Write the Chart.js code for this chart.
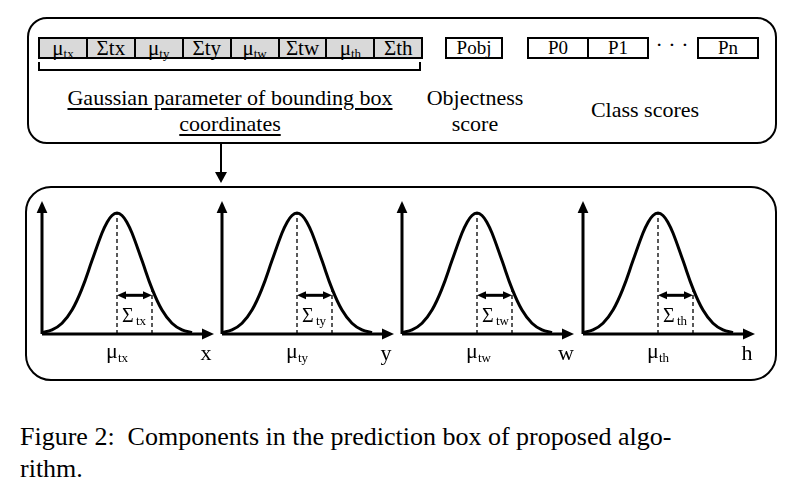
<!DOCTYPE html>
<html><head><meta charset="utf-8">
<script src="https://cdn.jsdelivr.net/npm/chart.js@4"></script>
<style>
body{margin:0;background:#fff;}
#page{position:relative;width:804px;height:494px;font-family:'Liberation Serif','DejaVu Serif',serif;}
.abs{position:absolute;}
.box{position:absolute;border:2px solid #000;box-sizing:border-box;}
.cell{position:absolute;top:37px;height:22px;border:2px solid #000;box-sizing:border-box;background:#d9d9d9;font-size:21px;line-height:18px;text-align:center;font-family:'Liberation Serif',serif;}
.wcell{background:#fff;font-size:19px;}
.cell sub{font-size:13px;vertical-align:-3px;}
.txt{position:absolute;font-size:22px;text-align:center;white-space:nowrap;font-family:'Liberation Serif',serif;}
.u{text-decoration:underline;text-underline-offset:3px;}
canvas{position:absolute;}
</style></head>
<body><div id="page">
<div class="box" style="left:27px;top:17px;width:750px;height:127px;border-radius:20px"></div>
<div id="cells"></div>
<div class="abs" style="left:38px;top:62px;width:383px;height:9px;border:2px solid #000;border-top:none;box-sizing:border-box"></div>
<div class="txt u" style="left:30px;width:400px;top:85px">Gaussian parameter of bounding box</div>
<div class="txt u" style="left:30px;width:400px;top:111px">coordinates</div>
<div class="cell wcell" style="left:445px;width:58px">Pobj</div>
<div class="txt" style="left:415px;width:120px;top:85px">Objectness</div>
<div class="txt" style="left:415px;width:120px;top:111px">score</div>
<div class="cell wcell" style="left:527px;width:62px">P0</div>
<div class="cell wcell" style="left:587px;width:62px">P1</div>
<div class="txt" style="left:650px;width:44px;top:32px">· · ·</div>
<div class="cell wcell" style="left:697px;width:62px">Pn</div>
<div class="txt" style="left:575px;width:140px;top:97px">Class scores</div>
<div class="abs" style="left:220px;top:143px;width:2px;height:32px;background:#000"></div>
<div class="abs" style="left:215px;top:172px;width:0;height:0;border-left:6px solid transparent;border-right:6px solid transparent;border-top:11px solid #000"></div>
<div class="box" style="left:25px;top:186px;width:752px;height:195px;border-radius:26px"></div>
<div id="charts"></div>
<div class="txt" style="left:20px;top:422px;font-size:26px;text-align:left">Figure 2:&nbsp; Components in the prediction box of proposed algo-</div>
<div class="txt" style="left:20px;top:454px;font-size:26px;text-align:left">rithm.</div>
</div>
<script>
const paramCells = ['μ<sub>tx</sub>','Σtx','μ<sub>ty</sub>','Σty','μ<sub>tw</sub>','Σtw','μ<sub>th</sub>','Σth'];
const axisNames = ['x','y','w','h'];
const subNames = ['tx','ty','tw','th'];
const axisLeft = [42, 222, 402, 583];
// curve: offset from the mean (px) and relative height
const curveX = [-75,-65,-55,-45,-35,-25,-15,-10,-5,0,5,10,15,25,35,45,55,65,75];
const curveY = [0.011,0.034,0.089,0.198,0.375,0.607,0.835,0.923,0.98,1,0.98,0.923,0.835,0.607,0.375,0.198,0.089,0.034,0.011];
const meanX = 75, sigmaX = 35, sigmaY = 0.375, arrowY = 0.32;

const cellsDiv = document.getElementById('cells');
paramCells.forEach((c, i) => {
  const d = document.createElement('div');
  d.className = 'cell';
  d.style.left = (38 + i * 47.9) + 'px';
  d.style.width = '50px';
  d.innerHTML = c;
  cellsDiv.appendChild(d);
});

function arrowHead(ctx, x, y, dx, dy, s) {
  const px = -dy, py = dx;
  ctx.beginPath();
  ctx.moveTo(x, y);
  ctx.lineTo(x - dx * s + px * s * 0.45, y - dy * s + py * s * 0.45);
  ctx.lineTo(x - dx * s - px * s * 0.45, y - dy * s - py * s * 0.45);
  ctx.closePath();
  ctx.fill();
}

const decor = {
  id: 'decor',
  afterDraw(chart) {
    const ctx = chart.ctx, xs = chart.scales.x, ys = chart.scales.y;
    const x0 = xs.getPixelForValue(0), y0 = ys.getPixelForValue(0);
    const xe = xs.getPixelForValue(172), yt = ys.getPixelForValue(1.1);
    ctx.save();
    ctx.strokeStyle = '#000'; ctx.fillStyle = '#000'; ctx.lineWidth = 3;
    ctx.beginPath(); ctx.moveTo(x0, y0); ctx.lineTo(xe - 8, y0);
    ctx.moveTo(x0, y0); ctx.lineTo(x0, yt + 8); ctx.stroke();
    arrowHead(ctx, xe, y0, 1, 0, 12);
    arrowHead(ctx, x0, yt, 0, -1, 12);
    const xm = xs.getPixelForValue(meanX), xsg = xs.getPixelForValue(meanX + sigmaX);
    ctx.lineWidth = 1.3; ctx.setLineDash([4, 3]);
    ctx.beginPath(); ctx.moveTo(xm, y0); ctx.lineTo(xm, ys.getPixelForValue(1));
    ctx.moveTo(xsg, y0); ctx.lineTo(xsg, ys.getPixelForValue(sigmaY)); ctx.stroke();
    ctx.setLineDash([]);
    const ya = ys.getPixelForValue(arrowY);
    ctx.lineWidth = 3;
    ctx.beginPath(); ctx.moveTo(xm + 6, ya); ctx.lineTo(xsg - 6, ya); ctx.stroke();
    arrowHead(ctx, xm, ya, -1, 0, 9);
    arrowHead(ctx, xsg, ya, 1, 0, 9);
    const n = chart.options.plugins.decor.idx;
    ctx.font = '20px "Liberation Serif"'; ctx.textBaseline = 'alphabetic';
    ctx.fillText('Σ', xm + 5, y0 - 12);
    ctx.font = '13px "Liberation Serif"'; ctx.fillText(subNames[n], xm + 19, y0 - 9);
    ctx.font = '22px "Liberation Serif"'; ctx.fillText('μ', xm - 11, y0 + 24);
    ctx.font = '13px "Liberation Serif"'; ctx.fillText(subNames[n], xm + 1, y0 + 28);
    ctx.font = '22px "Liberation Serif"'; ctx.textAlign = 'center';
    ctx.fillText(axisNames[n], x0 + 164, y0 + 26);
    ctx.restore();
  }
};

const chartsDiv = document.getElementById('charts');
axisLeft.forEach((ax, n) => {
  const cv = document.createElement('canvas');
  cv.style.left = (ax - 10) + 'px'; cv.style.top = '196px';
  cv.style.width = '192px'; cv.style.height = '176px';
  chartsDiv.appendChild(cv);
  new Chart(cv, {
    type: 'line',
    data: { datasets: [{
      data: curveX.map((d, i) => ({ x: meanX + d, y: curveY[i] })),
      borderColor: '#000', borderWidth: 3, pointRadius: 0, tension: 0.4, fill: false
    }] },
    options: {
      responsive: false, animation: false, devicePixelRatio: 1,
      layout: { padding: { left: 10, right: 10, top: 5, bottom: 38 } },
      plugins: { legend: { display: false }, tooltip: { enabled: false }, decor: { idx: n } },
      scales: {
        x: { type: 'linear', min: 0, max: 172, display: false },
        y: { min: 0, max: 1.1, display: false }
      }
    },
    plugins: [decor]
  });
});
</script>
</body></html>
